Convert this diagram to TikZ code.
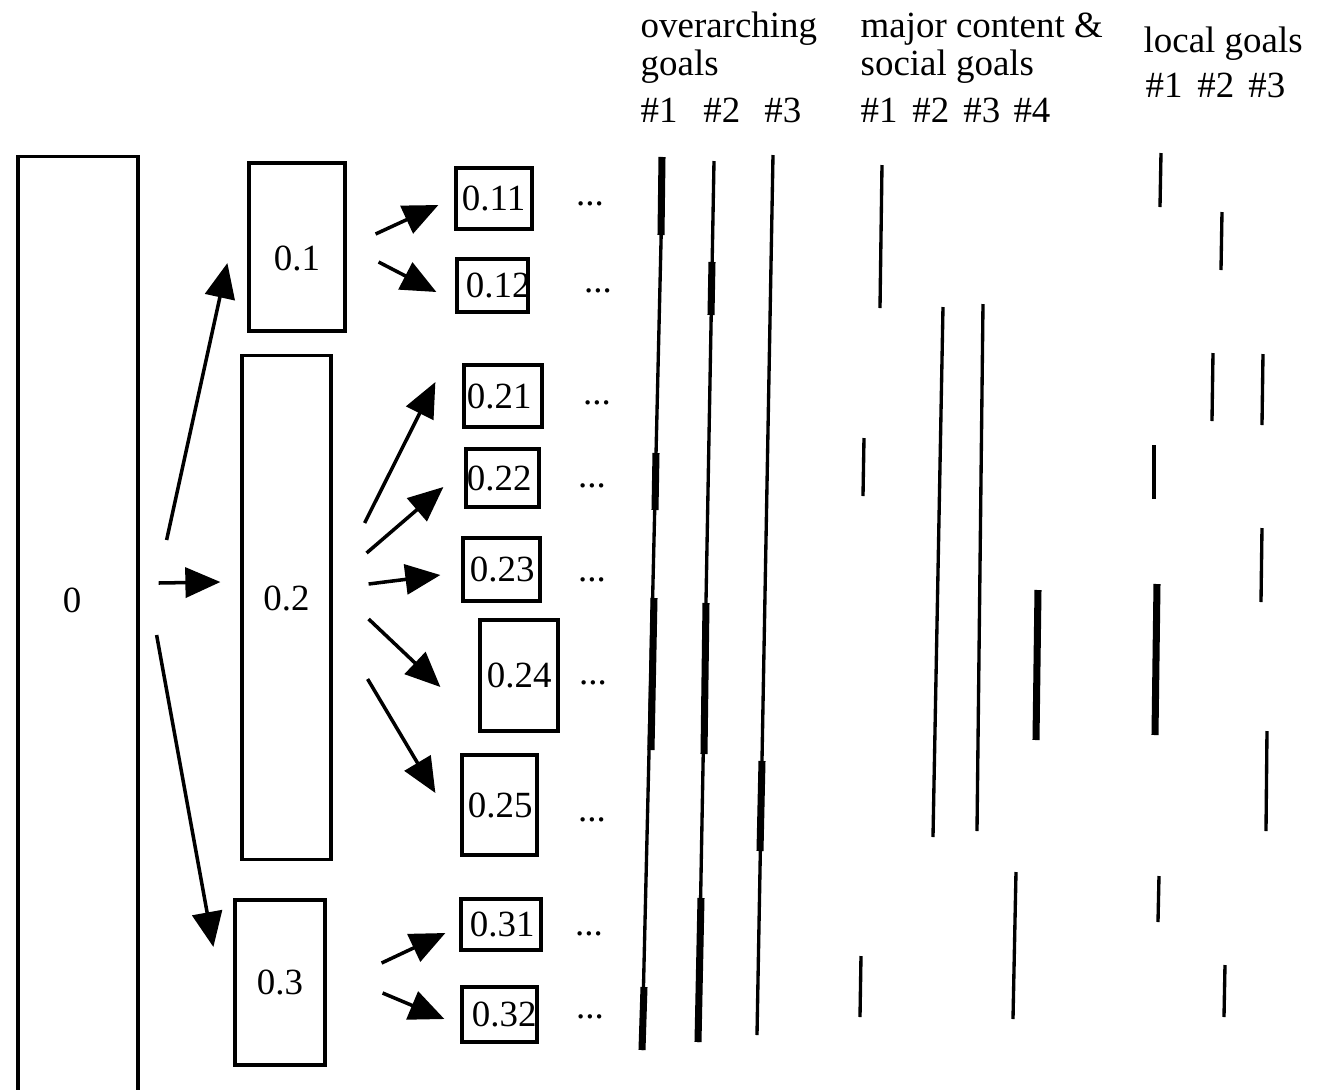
\documentclass[tikz,border=0pt]{standalone}
\usepackage{fontspec}
\setmainfont{Liberation Serif}
\usepackage{tikz}
\usetikzlibrary{arrows.meta}
\tikzset{
    x=0.01cm, y=-0.01cm, % one unit is one pixel of the scan, y runs down
    every node/.style={font=\fontsize{10.5pt}{12.6pt}\selectfont}, % text size of the scan
    box/.style={draw, line width=0.9pt}, % the boxes of the outline
    leaf/.style={draw, line width=0.9pt, inner ysep=0pt, align=left}, % the small boxes, text may run over
    head/.style={anchor=base west, inner sep=0pt}, % column headings
    arr/.style={-{Triangle[length=0.35cm, width=0.3cm]}, line width=1pt}, % big filled heads
    goal/.style={line width=0.95pt}, % a goal that is in force
    focus/.style={line width=2pt}, % a goal that is in focus
}
\begin{document}
\begin{tikzpicture}
\useasboundingbox (0,0) rectangle (1320,1090);
% outline
\node[box, minimum width=1.2cm, minimum height=9.5cm] (b0) at (78,632) {};
\node (l0) at (72,600) {0};
\node[box, minimum width=0.96cm, minimum height=1.68cm, text height=0.47cm] (b1) at (297,247) {0.1};
\node[box, minimum width=0.89cm, minimum height=5.03cm, text depth=0.19cm] (b2) at (286.5,607.5) {0.2};
\node[box, minimum width=0.9cm, minimum height=1.65cm] (b3) at (280,982.5) {0.3};
\node[leaf, inner xsep=0.06cm, text width=0.64cm, minimum height=0.61cm] (b11) at (494,198.5) {0.11};
\node[leaf, inner xsep=0.09cm, text width=0.53cm, minimum height=0.53cm] (b12) at (492.5,285.5) {0.12};
\node[leaf, inner xsep=0.03cm, text width=0.72cm, minimum height=0.62cm] (b21) at (503,396) {0.21};
\node[leaf, inner xsep=0.01cm, text width=0.71cm, minimum height=0.58cm] (b22) at (502.5,478) {0.22};
\node[leaf, inner xsep=0.07cm, text width=0.63cm, minimum height=0.63cm] (b23) at (501.5,569.5) {0.23};
\node[leaf, inner xsep=0.07cm, text width=0.64cm, minimum height=1.11cm] (b24) at (519,675.5) {0.24};
\node[leaf, inner xsep=0.06cm, text width=0.63cm, minimum height=1cm] (b25) at (499.5,805) {0.25};
\node[leaf, inner xsep=0.09cm, text width=0.62cm, minimum height=0.51cm] (b31) at (501,924.5) {0.31};
\node[leaf, inner xsep=0.1cm, text width=0.55cm, minimum height=0.55cm] (b32) at (499.5,1014.5) {0.32};
\foreach \n/\x/\y in {11/590/205, 12/598/292, 21/597/404, 22/592/487, 23/592/581,
                      24/593/684, 25/592/821, 31/589/935, 32/590/1018}
    \node[anchor=base] (d\n) at (\x,\y) {...};
% arrows
\draw[arr] ([shift={(27,-92)}]b0.east) -- ([shift={(-20,16)}]b1.west);
\draw[arr] ([shift={(19,-49)}]b0.east) -- ([shift={(-20,-25.5)}]b2.west);
\draw[arr] ([shift={(17,3)}]b0.east) -- ([shift={(-20,-35.5)}]b3.west);
\draw[arr] ([shift={(29,-13)}]b1.east) -- ([shift={(-16,6.5)}]b11.west);
\draw[arr] ([shift={(32,15)}]b1.east) -- ([shift={(-19,6.5)}]b12.west);
\draw[arr] ([shift={(32,-84.5)}]b2.east) -- ([shift={(-27,-14)}]b21.west);
\draw[arr] ([shift={(34,-54.5)}]b2.east) -- ([shift={(-21,9)}]b22.west);
\draw[arr] ([shift={(36,-23.5)}]b2.east) -- ([shift={(-21,5.5)}]b23.west);
\draw[arr] ([shift={(36,11.5)}]b2.east) -- ([shift={(-38,11.5)}]b24.west);
\draw[arr] ([shift={(35,71.5)}]b2.east) -- ([shift={(-25,-12)}]b25.west);
\draw[arr] ([shift={(55,-19.5)}]b3.east) -- ([shift={(-14,8.5)}]b31.west);
\draw[arr] ([shift={(56,10.5)}]b3.east) -- ([shift={(-16,4.5)}]b32.west);
% headings
\node[head] (hoa) at (640,37) {overarching};
\node[head] (hob) at (640,75) {goals};
\node[head] (hoc) at (640,122) {\#1\hspace{.7em}\#2\hspace{.65em}\#3};
\node[head] (hma) at (860,37) {major content \&};
\node[head] (hmb) at (860,75) {social goals};
\node[head] (hmc) at (860,122) {\#1\hspace{.4em}\#2\hspace{.38em}\#3\hspace{.36em}\#4};
\node[head] (hla) at (1143,52) {local goals};
\node[head] (hlb) at (1145,97) {\#1\hspace{.4em}\#2\hspace{.38em}\#3};
% goal bars
\foreach \xa/\ya/\xb/\yb in {663/157/642/1050, 714/161/698/1042, 773/155/757/1035,
        882/165/880/308, 864/438/863/496, 861/956/860/1017,
        943/307/933/837, 983/304/977/831, 1016/872/1013/1019,
        1161/153/1160/207, 1154/445/1154/499, 1159/876/1158/922,
        1222/212/1221/270, 1213/353/1212/421, 1225/965/1224/1017,
        1263/354/1262/425, 1262/528/1261/602, 1267/731/1266/831}
    \draw[goal] (\xa,\ya) -- (\xb,\yb);
\foreach \xa/\ya/\xb/\yb in {662/157/661/235, 656/453/655/510, 654/598/651/750, 644/987/642/1050,
        712/262/711/315, 706/603/704/754, 701/898/698/1042, 762/761/760/851,
        1038/590/1036/740, 1157/584/1155/735}
    \draw[focus] (\xa,\ya) -- (\xb,\yb);
\end{tikzpicture}
\end{document}
